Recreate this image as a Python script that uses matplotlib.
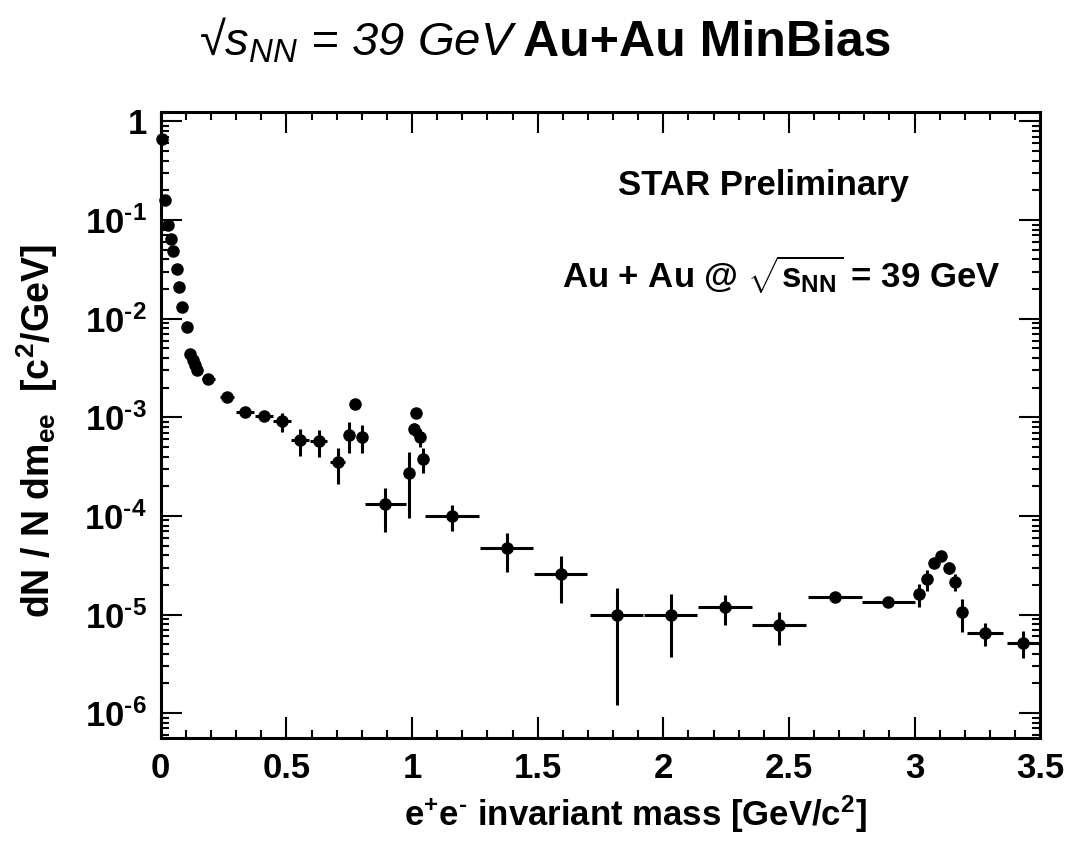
import numpy as np
import matplotlib
matplotlib.use("Agg")
import matplotlib.pyplot as plt
from matplotlib.ticker import MultipleLocator, LogLocator, FixedLocator, FuncFormatter, NullFormatter

plt.rcParams['font.family'] = ['Liberation Sans', 'DejaVu Sans']
plt.rcParams['mathtext.fontset'] = 'custom'
plt.rcParams['mathtext.rm'] = 'Liberation Sans:bold'
plt.rcParams['mathtext.bf'] = 'Liberation Sans:bold'
plt.rcParams['mathtext.it'] = 'Liberation Sans:italic'

# dielectron mass spectrum, Au+Au 39 GeV
mass = [0.005, 0.017, 0.030, 0.041, 0.050, 0.064, 0.074, 0.086, 0.106,
        0.117, 0.127, 0.137, 0.146, 0.19, 0.265, 0.336, 0.41, 0.482,
        0.555, 0.628, 0.704, 0.748, 0.774, 0.80, 0.894, 0.987, 1.006,
        1.016, 1.033, 1.044, 1.159, 1.376, 1.591, 1.814, 2.029, 2.244,
        2.46, 2.683, 2.896, 3.018, 3.049, 3.076, 3.105, 3.138, 3.16,
        3.187, 3.28, 3.433]
yield_ = [0.67, 0.16, 0.090, 0.065, 0.0485, 0.032, 0.021, 0.0132, 0.0083,
          0.0044, 0.0038, 0.0034, 0.0030, 0.00243, 0.0016, 0.00112, 0.00104, 0.00091,
          5.9e-4, 5.7e-4, 3.5e-4, 6.6e-4, 1.38e-3, 6.3e-4, 1.31e-4, 2.7e-4, 7.6e-4,
          1.1e-3, 6.3e-4, 3.8e-4, 1.0e-4, 4.7e-5, 2.6e-5, 9.9e-6, 9.9e-6, 1.18e-5,
          7.8e-6, 1.51e-5, 1.35e-5, 1.6e-5, 2.3e-5, 3.35e-5, 3.9e-5, 3.0e-5, 2.15e-5,
          1.05e-5, 6.45e-6, 5.2e-6]
mass_err = [0, 0, 0, 0, 0, 0, 0, 0, 0,
            0, 0, 0, 0, 0.025, 0.028, 0.035, 0.035, 0.035,
            0.035, 0.035, 0.03, 0.012, 0.012, 0.012, 0.083, 0.008, 0.008,
            0.008, 0.008, 0.008, 0.107, 0.107, 0.107, 0.107, 0.107, 0.107,
            0.107, 0.107, 0.107, 0.01, 0.01, 0.01, 0.01, 0.01, 0.01,
            0.01, 0.073, 0.067]
yield_err = [0, 0, 0, 0, 0, 0, 0, 0, 0,
             0, 0, 0, 0, 1e-4, 1e-4, 1e-4, 1.2e-4, 2e-4,
             1.8e-4, 1.75e-4, 1.4e-4, 2.3e-4, 1e-4, 2.0e-4, 6.2e-5, 1.75e-4, 1.2e-4,
             8e-5, 1.3e-4, 1.1e-4, 3e-5, 2e-5, 1.3e-5, 8.7e-6, 6.2e-6, 4e-6,
             2.9e-6, 1e-6, 1e-6, 4.2e-6, 5.5e-6, 4e-6, 3e-6, 4e-6, 4.3e-6,
             3.8e-6, 1.7e-6, 1.6e-6]

decades = [1e-6, 1e-5, 1e-4, 1e-3, 1e-2, 1e-1, 1.0]

fig = plt.figure(figsize=(10.68, 8.48), dpi=100)
ax = fig.add_axes([0.1505, 0.1297, 0.8235, 0.7383])

ax.errorbar(mass, yield_, xerr=mass_err, yerr=yield_err, fmt='o', color='black',
            ms=8, elinewidth=2.2, capsize=0, clip_on=False, zorder=3)

ax.set_yscale('log')
ax.set_xlim(0, 3.5)
ax.set_ylim(5.6e-7, 1.25)

ax.xaxis.set_major_locator(MultipleLocator(0.5))
ax.xaxis.set_minor_locator(MultipleLocator(0.1))
ax.xaxis.set_major_formatter(FuncFormatter(lambda v, p: '{:g}'.format(v)))

def ylab(v, p):
    e = int(round(np.log10(v)))
    if e == 0:
        return '1'
    return r'$\mathbf{10^{\text{-}%d}}$' % (-e)

ax.yaxis.set_major_locator(FixedLocator(decades))
ax.yaxis.set_minor_locator(LogLocator(base=10, subs=np.arange(2, 10), numticks=100))
ax.yaxis.set_major_formatter(FuncFormatter(ylab))
ax.yaxis.set_minor_formatter(NullFormatter())

ax.tick_params(which='both', direction='in', top=True, right=True, width=1.5)
ax.tick_params(which='major', length=15)
ax.tick_params(which='minor', length=6)
ax.tick_params(axis='x', which='major', labelsize=25, pad=10)
ax.tick_params(axis='y', which='major', labelsize=25, pad=10)
for lab in ax.get_xticklabels() + ax.get_yticklabels():
    lab.set_fontweight('bold')
for s in ax.spines.values():
    s.set_linewidth(2.2)

ax.set_xlabel(r'e$^{\mathbf{+}}$e$^{\mathbf{\text{-}}}$ invariant mass [GeV/c$^{\mathbf{2}}$]',
              fontsize=25, fontweight='bold')
ax.xaxis.set_label_coords(0.54, -0.088)
ax.set_ylabel(r'dN / N dm$_{\mathbf{ee}}$  [c$^{\mathbf{2}}$/GeV]',
              fontsize=27, fontweight='bold')
ax.yaxis.set_label_coords(-0.115, 0.49)

ax.text(0.685, 0.882, 'STAR Preliminary', transform=ax.transAxes,
        ha='center', va='center', fontsize=25, fontweight='bold')
ax.text(0.705, 0.719, r'Au + Au @ $\sqrt{\mathbf{s_{NN}}}$ = 39 GeV', transform=ax.transAxes,
        ha='center', va='baseline', fontsize=25, fontweight='bold')

# header line: italic energy, bold system
fig.text(0.484, 0.934, '\u221a$\\mathit{s_{NN}}$ = 39 GeV', ha='right', va='baseline',
         fontsize=34, style='italic')
fig.text(0.490, 0.934, 'Au+Au MinBias', ha='left', va='baseline',
         fontsize=36, fontweight='bold')

fig.savefig('out.png', dpi=100)
